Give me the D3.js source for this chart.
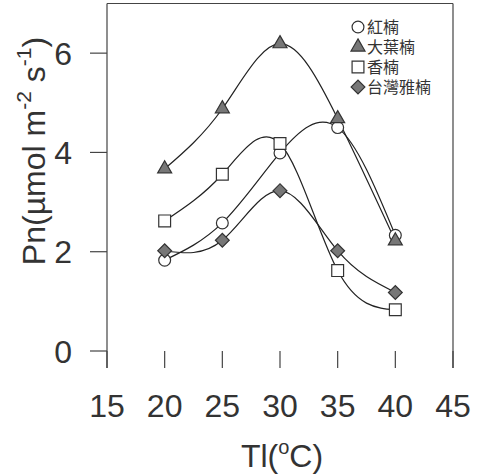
<!DOCTYPE html>
<html>
<head>
<meta charset="utf-8">
<script src="https://cdn.jsdelivr.net/npm/d3@7"></script>
<style>
  body { margin: 0; background: #fff; }
  svg { display: block; }
</style>
</head>
<body>
<div id="chart"></div>
<script>
// temperatures (x) and net photosynthesis per species (y)
const temps = [20, 25, 30, 35, 40];
const hongnan = [1.83, 2.58, 3.99, 4.50, 2.33];   // 紅楠
const dayenan = [3.67, 4.88, 6.19, 4.68, 2.22];   // 大葉楠
const xiangnan = [2.62, 3.56, 4.18, 1.62, 0.83];  // 香楠
const yanan = [2.02, 2.23, 3.23, 2.02, 1.18];     // 台灣雅楠
const names = ["紅楠", "大葉楠", "香楠", "台灣雅楠"];
const xTicks = [15, 20, 25, 30, 35, 40, 45];
const yTicks = [0, 2, 4, 6];

const width = 484, height = 476;
const ink = "#333";

const svg = d3.select("#chart").append("svg")
    .attr("width", width)
    .attr("height", height)
    .style("font-family", "'Liberation Sans', Arial, sans-serif");

const x = d3.scaleLinear().domain([15, 45]).range([107, 453]);
const y = d3.scaleLinear().domain([0, 7]).range([351, 3.5]);

const series = [
  { name: names[0], values: hongnan, shape: "circle" },
  { name: names[1], values: dayenan, shape: "triangle" },
  { name: names[2], values: xiangnan, shape: "square" },
  { name: names[3], values: yanan, shape: "diamond" }
];

// frame
const frame = svg.append("g").attr("stroke", "#444").attr("stroke-width", 1.2).attr("fill", "none");
frame.append("line").attr("x1", x(15)).attr("x2", x(45)).attr("y1", y(7)).attr("y2", y(7));
frame.append("line").attr("x1", x(15)).attr("x2", x(15)).attr("y1", y(7)).attr("y2", 368);
frame.append("line").attr("x1", x(45)).attr("x2", x(45)).attr("y1", y(7)).attr("y2", 368);

// y axis ticks (outward) + labels
const yAxis = svg.append("g");
yAxis.selectAll("line").data(yTicks).join("line")
    .attr("x1", 90).attr("x2", x(15))
    .attr("y1", d => y(d)).attr("y2", d => y(d))
    .attr("stroke", "#444").attr("stroke-width", 1.2);
yAxis.selectAll("text").data(yTicks).join("text")
    .attr("x", 72).attr("y", d => y(d)).attr("dy", "0.36em")
    .attr("text-anchor", "end")
    .attr("font-size", 32).attr("fill", ink)
    .text(d => d);

// x axis ticks (down) + labels
const xAxis = svg.append("g");
xAxis.selectAll("line").data(xTicks).join("line")
    .attr("x1", d => x(d)).attr("x2", d => x(d))
    .attr("y1", y(0)).attr("y2", 368)
    .attr("stroke", "#444").attr("stroke-width", 1.2);
xAxis.selectAll("text").data(xTicks).join("text")
    .attr("x", d => x(d)).attr("y", 417)
    .attr("text-anchor", "middle")
    .attr("font-size", 32).attr("fill", ink)
    .text(d => d);

// titles
const xt = svg.append("text")
    .attr("x", 282).attr("y", 467)
    .attr("text-anchor", "middle")
    .attr("font-size", 32).attr("fill", ink);
xt.append("tspan").text("Tl(");
xt.append("tspan").attr("font-size", 20).attr("dy", -13).text("o");
xt.append("tspan").attr("dy", 13).text("C)");

const yt = svg.append("text")
    .attr("transform", "translate(45,151) rotate(-90)")
    .attr("text-anchor", "middle")
    .attr("font-size", 32).attr("fill", ink);
yt.append("tspan").text("Pn(µmol m");
yt.append("tspan").attr("font-size", 21).attr("dy", -14).text("-2");
yt.append("tspan").attr("dy", 14).text(" s");
yt.append("tspan").attr("font-size", 21).attr("dy", -14).text("-1");
yt.append("tspan").attr("dy", 14).text(")");

// curves
const line = d3.line()
    .x((d, i) => x(temps[i]))
    .y(d => y(d))
    .curve(d3.curveNatural);

svg.append("g").selectAll("path").data(series).join("path")
    .attr("d", d => line(d.values))
    .attr("fill", "none")
    .attr("stroke", "#222")
    .attr("stroke-width", 1.2);

// markers
const symbolType = { circle: d3.symbolCircle, triangle: d3.symbolTriangle, square: d3.symbolSquare, diamond: d3.symbolSquare };
const symbolSize = { circle: 110, triangle: 85, square: 140, diamond: 95 };
const symbolFill = { circle: "#fff", triangle: "#777", square: "#fff", diamond: "#777" };

function drawMarker(g, shape, cx, cy) {
  g.append("path")
      .attr("d", d3.symbol(symbolType[shape], symbolSize[shape])())
      .attr("transform", `translate(${cx},${cy})` + (shape === "diamond" ? " rotate(45)" : ""))
      .attr("fill", symbolFill[shape])
      .attr("stroke", "#333")
      .attr("stroke-width", 1.2);
}

const markers = svg.append("g");
series.forEach(s => {
  s.values.forEach((v, i) => drawMarker(markers, s.shape, x(temps[i]), y(v)));
});

// legend
const legend = svg.append("g");
series.forEach((s, i) => {
  const ly = 27 + i * 20;
  drawMarker(legend, s.shape, 358, ly);
  legend.append("text")
      .attr("x", 367).attr("y", ly).attr("dy", "0.36em")
      .attr("font-size", 16)
      .attr("font-family", "'Noto Sans CJK TC', sans-serif")
      .attr("fill", ink)
      .text(s.name);
});
</script>
</body>
</html>
